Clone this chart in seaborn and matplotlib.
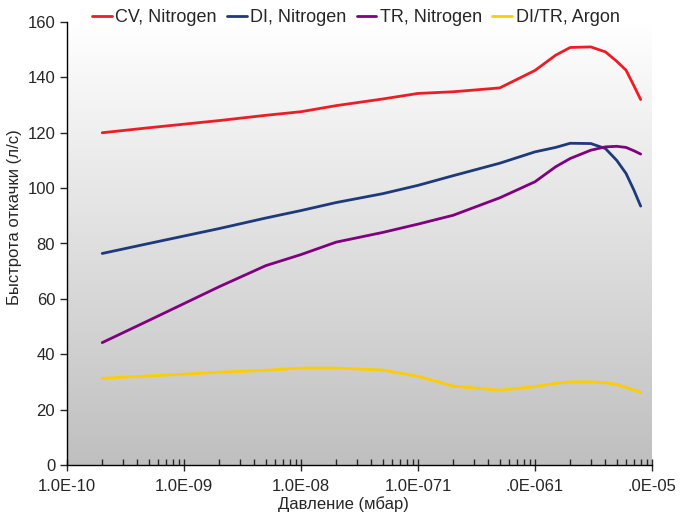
import numpy as np
import pandas as pd
import matplotlib
matplotlib.use('Agg')
import matplotlib.pyplot as plt
import matplotlib.ticker as mticker
import seaborn as sns

# 데이터
pressure = [2e-10, 5e-10, 1e-9, 2e-9, 5e-9, 1e-8, 2e-8, 5e-8, 1e-7, 2e-7, 5e-7,
            1e-6, 1.5e-6, 2e-6, 3e-6, 4e-6, 5e-6, 6e-6, 7e-6, 8e-6]
cv_nitrogen = [120, 121.8, 123.1, 124.4, 126.3, 127.6, 129.8, 132.2, 134.2, 134.8, 136.2,
               142.5, 148, 150.8, 151, 149.2, 145.8, 142.6, 137, 132]
di_nitrogen = [76.4, 80, 82.7, 85.4, 89.2, 91.9, 94.8, 98, 101, 104.5, 109,
               113.1, 114.7, 116.2, 116.1, 114.3, 110, 105.3, 99.3, 93.5]
tr_nitrogen = [44.2, 52.2, 58.3, 64.4, 72, 76, 80.5, 84, 87, 90.2, 96.5,
               102.3, 107.7, 110.7, 113.7, 114.9, 115.1, 114.7, 113.5, 112.3]
ditr_argon = [31.3, 32.2, 32.8, 33.5, 34.2, 35, 35, 34.3, 32, 28.5, 27,
              28.3, 29.5, 30, 30, 29.7, 29.1, 28, 27.1, 26.2]

series_names = ['CV, Nitrogen', 'DI, Nitrogen', 'TR, Nitrogen', 'DI/TR, Argon']
series_colors = ['#ee1c25', '#1f3a7a', '#800080', '#ffcc00']
x_tick_labels = ['1.0E-10', '1.0E-09', '1.0E-08', '1.0E-071', '.0E-061', '.0E-05']

sns.set_style('white')
plt.rcParams['font.family'] = ['Liberation Sans', 'DejaVu Sans']

df = pd.DataFrame({
    'pressure': pressure * 4,
    'speed': cv_nitrogen + di_nitrogen + tr_nitrogen + ditr_argon,
    'series': sum([[n] * len(pressure) for n in series_names], []),
})

fig = plt.figure(figsize=(6.81, 5.13), dpi=100)
ax = fig.add_axes([67 / 681, 48 / 513, 585 / 681, 443 / 513])

# 배경 그라데이션 (위: 흰색 -> 아래: 회색)
grad = np.linspace(1.0, 0.0, 256).reshape(-1, 1)
top = np.array([1.0, 1.0, 1.0])
bottom = np.array([0.75, 0.75, 0.75])
img = bottom + (top - bottom) * grad[..., None]
ax.imshow(img, extent=[0, 1, 0, 1], transform=ax.transAxes, aspect='auto', zorder=0)

sns.lineplot(data=df, x='pressure', y='speed', hue='series', hue_order=series_names,
             palette=series_colors, linewidth=2.0, ax=ax, zorder=3, legend=True)

ax.set_xscale('log')
ax.set_xlim(1e-10, 1e-5)
ax.set_ylim(0, 160)
ax.set_yticks(range(0, 161, 20))
ax.set_xticks([1e-10, 1e-9, 1e-8, 1e-7, 1e-6, 1e-5])
ax.set_xticklabels(x_tick_labels)
ax.xaxis.set_minor_locator(mticker.LogLocator(base=10, subs=np.arange(2, 10), numticks=20))
ax.xaxis.set_minor_formatter(mticker.NullFormatter())

for side in ['top', 'right']:
    ax.spines[side].set_visible(False)
for side in ['left', 'bottom']:
    ax.spines[side].set_color('black')
    ax.spines[side].set_linewidth(1.0)

ax.tick_params(axis='x', which='major', direction='inout', length=8, width=1, labelsize=12, pad=6, bottom=True)
ax.tick_params(axis='x', which='minor', direction='in', length=4, width=1, bottom=True)
ax.tick_params(axis='y', which='major', direction='out', length=5, width=1, labelsize=12, left=True)

ax.set_xlabel('Давление (мбар)', fontsize=12)
ax.set_ylabel('Быстрота откачки (л/с)', fontsize=12)
ax.xaxis.set_label_coords(0.472, -0.07)
ax.yaxis.set_label_coords(-0.077, 0.56)

leg = ax.legend(loc='center left', bbox_to_anchor=(92 / 681, 1 - 18 / 513),
                bbox_transform=fig.transFigure, ncol=4, frameon=False, fontsize=13,
                handlelength=1.1, handletextpad=0.2, columnspacing=0.55,
                borderpad=0, borderaxespad=0)
for line in leg.get_lines():
    line.set_linewidth(2.0)

fig.savefig('out.png', dpi=100)
